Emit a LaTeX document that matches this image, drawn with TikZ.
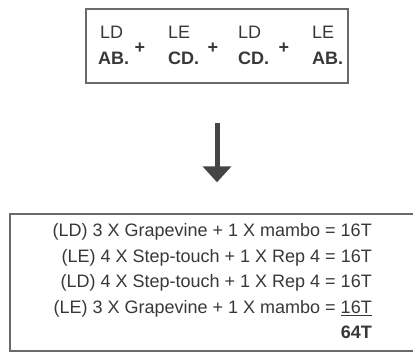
\documentclass[tikz,border=0pt]{standalone}
\usepackage{fontspec}
\setmainfont{Liberation Sans}
\usetikzlibrary{arrows.meta}
\definecolor{ink}{HTML}{383838}
\definecolor{frame}{HTML}{6A6A6A}
\definecolor{arrowgray}{HTML}{454545}
\tikzset{
  panel/.style={draw=frame, line width=1.4pt, inner sep=0pt},
  side/.style={anchor=base west, inner sep=0pt, text=ink, font=\fontsize{18}{18}\selectfont},
  part/.style={anchor=base west, inner sep=0pt, text=ink, font=\fontsize{18}{18}\selectfont\bfseries},
  plus/.style={inner sep=0pt, text=ink, font=\fontsize{18}{18}\selectfont\bfseries},
  countline/.style={anchor=base east, inner sep=0pt, text=ink, font=\fontsize{18}{18}\selectfont},
  bigarrow/.style={draw=arrowgray, line width=5pt,
    -{Triangle[width=28pt,length=16pt,fill=arrowgray]}},
}
\begin{document}
\begin{tikzpicture}[x=1pt,y=-1pt]
\useasboundingbox (0,0) rectangle (413,352);
\clip (0,0) rectangle (413,352);

% sequence of the four blocks
\node[panel, minimum width=262pt, minimum height=74pt] (seq) at (217,46) {};
\node[side] (s1) at (100,39) {LD};
\node[part] (b1) at (98,65) {AB.};
\node[plus] (p1) at (140,48) {+};
\node[side] (s2) at (168,39) {LE};
\node[part] (b2) at (168,65) {CD.};
\node[plus] (p2) at (213,48) {+};
\node[side] (s3) at (238,39) {LD};
\node[part] (b3) at (238,65) {CD.};
\node[plus] (p3) at (284,48) {+};
\node[side] (s4) at (312,39) {LE};
\node[part] (b4) at (312,65) {AB.};

% breakdown of the counts
\node[panel, minimum width=420pt, minimum height=137pt] (count) at (220,282.5) {};
\node[countline] (l1) at (372,237)   {(LD) 3 X Grapevine + 1 X mambo = 16T};
\node[countline] (l2) at (372,262.5) {(LE) 4 X Step-touch + 1 X Rep 4 = 16T};
\node[countline] (l3) at (372,288)   {(LD) 4 X Step-touch + 1 X Rep 4 = 16T};
\node[countline] (l4) at (372,313.5) {(LE) 3 X Grapevine + 1 X mambo = \underline{16T}};
\node[countline, font=\fontsize{18}{18}\selectfont\bfseries] (l5) at (372,339) {64T};

\draw[bigarrow, shorten <=39pt, shorten >=31pt] (seq.south) -- (seq.south |- count.north);
\end{tikzpicture}
\end{document}
